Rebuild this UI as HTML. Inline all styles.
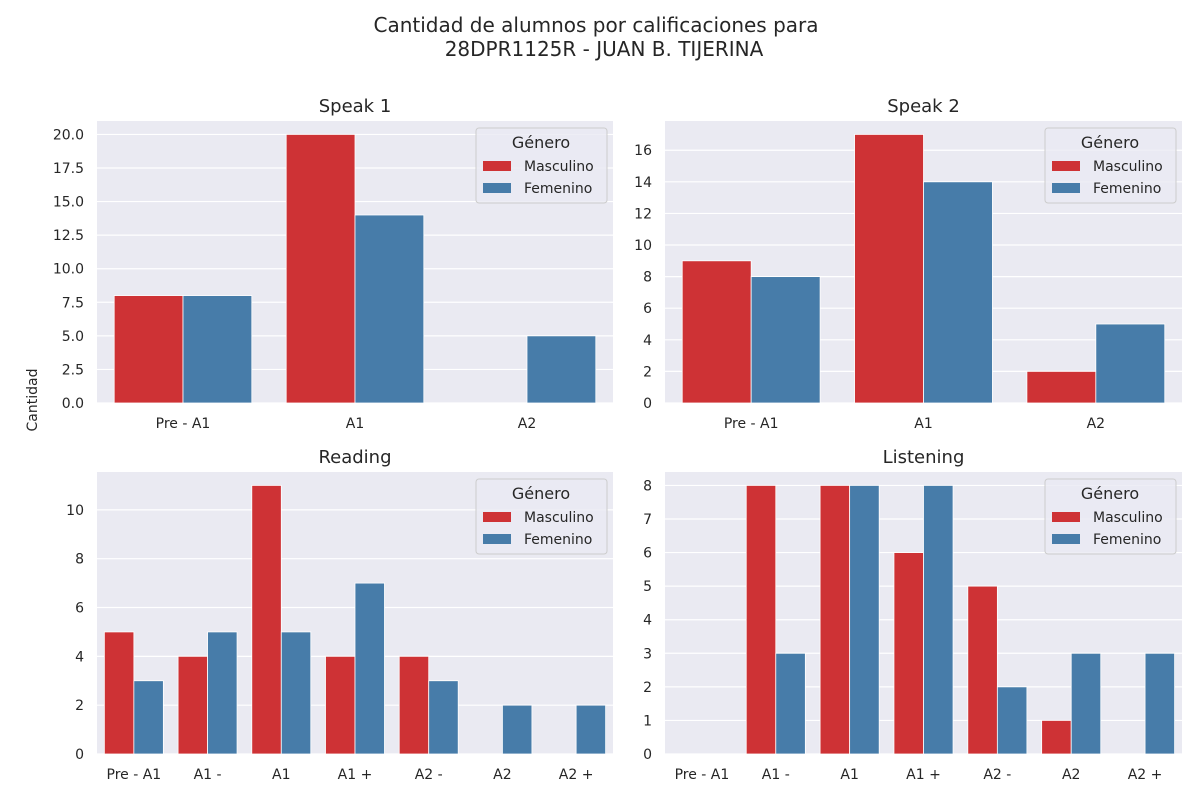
<!DOCTYPE html>
<html><head><meta charset="utf-8">
<style>
body{margin:0;background:#fff;font-family:"Liberation Sans","DejaVu Sans",sans-serif;}
svg text{font-family:"DejaVu Sans","Liberation Sans",sans-serif;fill:#262626;}
</style></head>
<body>
<svg id="c" width="1200" height="800">
<text x="596" y="32" font-size="20" text-anchor="middle">Cantidad de alumnos por calificaciones para</text>
<text x="604" y="56" font-size="20" text-anchor="middle">28DPR1125R - JUAN B. TIJERINA</text>
<text x="37" y="400" font-size="14" text-anchor="middle" transform="rotate(-90 37 400)">Cantidad</text>
</svg>
<script>
const speak1Cats=["Pre - A1","A1","A2"];
const speak1Masc=[8,20,0];
const speak1Fem=[8,14,5];
const speak1Ticks=[0,2.5,5,7.5,10,12.5,15,17.5,20];
const speak2Cats=["Pre - A1","A1","A2"];
const speak2Masc=[9,17,2];
const speak2Fem=[8,14,5];
const speak2Ticks=[0,2,4,6,8,10,12,14,16];
const readingCats=["Pre - A1","A1 -","A1","A1 +","A2 -","A2","A2 +"];
const readingMasc=[5,4,11,4,4,0,0];
const readingFem=[3,5,5,7,3,2,2];
const readingTicks=[0,2,4,6,8,10];
const listeningCats=["Pre - A1","A1 -","A1","A1 +","A2 -","A2","A2 +"];
const listeningMasc=[0,8,8,6,5,1,0];
const listeningFem=[0,3,8,8,2,3,3];
const listeningTicks=[0,1,2,3,4,5,6,7,8];

const NS="http://www.w3.org/2000/svg";
const svg=document.getElementById('c');
function mk(tag,attrs,parent){const e=document.createElementNS(NS,tag);for(const k in attrs)e.setAttribute(k,attrs[k]);(parent||svg).appendChild(e);return e;}
const RED="#ce3235",BLUE="#477ca9";

function panel(key,title,x0,y0,w,h,cats,masc,fem,ticks,fmt){
  const g=mk('g',{});
  
  
  const bg=mk('rect',{x:x0,y:y0,width:w,height:h,fill:'#eaeaf2'},g);
  
  
  const maxV=Math.max(...masc,...fem);
  const ymax=maxV*1.05;
  const ys=v=>y0+h-v/ymax*h;
  const band=w/cats.length, bw=band*0.4;
  ticks.forEach(t=>{
    const y=ys(t);
    const l=mk('line',{x1:x0,x2:x0+w,y1:y,y2:y,stroke:'#fff','stroke-width':1.2},g);
    
    
    const tx=mk('text',{x:x0-13,y:y+5,'font-size':14,'text-anchor':'end'},g);
    tx.textContent=fmt(t);
    
    
  });
  cats.forEach((c,i)=>{
    const cx=x0+band*(i+0.5);
    const tx=mk('text',{x:cx,y:y0+h+25,'font-size':14,'text-anchor':'middle'},g);
    tx.textContent=c;
    
    
    [[masc[i],RED,cx-bw,'masculino'],[fem[i],BLUE,cx,'femenino']].forEach(([v,col,bx,s])=>{
      if(v<=0)return;
      const r=mk('rect',{x:bx,y:ys(v),width:bw,height:ys(0)-ys(v),fill:col,stroke:'#fff','stroke-width':0.8},g);
      
      
    });
  });
  const t=mk('text',{x:x0+w/2,y:y0-9,'font-size':18,'text-anchor':'middle'},g);
  t.textContent=title;
  
  
  // legend
  const lx=x0+w-137,ly=y0+7;
  const lg=mk('g',{},g);
  
  
  mk('rect',{x:lx,y:ly,width:131,height:75,rx:3,fill:'#eaeaf2','fill-opacity':0.8,stroke:'#ccc'},lg);
  const lt=mk('text',{x:lx+65,y:ly+20,'font-size':16,'text-anchor':'middle'},lg);
  lt.textContent='Género';
  [['Masculino',RED,ly+31],['Femenino',BLUE,ly+53]].forEach(([n,col,yy])=>{
    const e=mk('g',{},lg);
    
    
    mk('rect',{x:lx+7,y:yy+2,width:28,height:10,fill:col},e);
    const tx=mk('text',{x:lx+48,y:yy+12,'font-size':14},e);tx.textContent=n;
  });
}
const f1=t=>t.toFixed(1), f0=t=>String(t);
panel('speak1','Speak 1',97,121,516,282,speak1Cats,speak1Masc,speak1Fem,speak1Ticks,f1);
panel('speak2','Speak 2',665,121,517,282,speak2Cats,speak2Masc,speak2Fem,speak2Ticks,f0);
panel('reading','Reading',97,472,516,282,readingCats,readingMasc,readingFem,readingTicks,f0);
panel('listening','Listening',665,472,517,282,listeningCats,listeningMasc,listeningFem,listeningTicks,f0);
</script>
</body></html>
